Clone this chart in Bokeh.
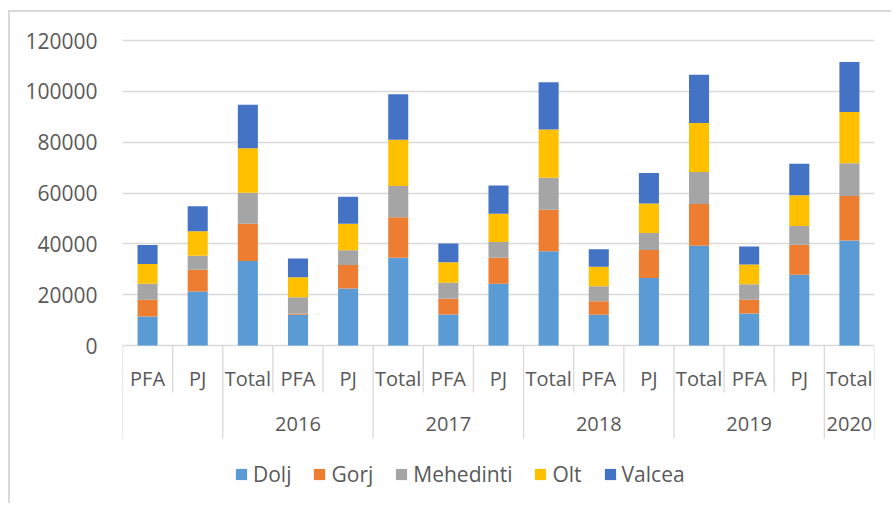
from bokeh.plotting import figure
from bokeh.models import (Range1d, FixedTicker, Legend, LegendItem, ColumnDataSource,
                          NumeralTickFormatter)
from bokeh.core.properties import value
from bokeh.embed import file_html
from bokeh.resources import INLINE

# ---- data ----
categories = ["PFA", "PJ", "Total", "PFA", "PJ", "Total", "PFA", "PJ", "Total",
              "PFA", "PJ", "Total", "PFA", "PJ", "Total"]
year_labels = ["", "2016", "2017", "2018", "2019", "2020"]
year_sizes = [2, 3, 3, 3, 3, 1]
series = ["Dolj", "Gorj", "Mehedinti", "Olt", "Valcea"]
dolj = [11400, 21200, 33200, 12100, 22400, 34500, 12200, 24300, 37100,
        12100, 26600, 39200, 12600, 27800, 41300]
gorj = [6600, 8600, 14700, 400, 9300, 16000, 6200, 10200, 16300,
        5300, 11000, 16500, 5400, 11800, 17500]
mehedinti = [6300, 5500, 12200, 6500, 5800, 12300, 6300, 6200, 12600,
             5900, 6700, 12600, 6100, 7400, 12900]
olt = [7800, 9700, 17500, 7900, 10400, 18200, 8100, 11100, 19000,
       7700, 11600, 19200, 7800, 12100, 20200]
valcea = [7400, 9800, 17100, 7300, 10600, 17900, 7300, 11200, 18600,
          6900, 12000, 19000, 7100, 12400, 19600]
y_ticks = [0, 20000, 40000, 60000, 80000, 100000, 120000]

colors = ["#5B9BD5", "#ED7D31", "#A5A5A5", "#FFC000", "#4472C4"]
TEXT = "#595959"
GRID = "#D9D9D9"
FONT = "Open Sans"
FS = "20px"
FS_Y = "21px"

PX = 120000 / 305.0  # data units per screen pixel

src = ColumnDataSource(dict(
    x=[i + 0.5 for i in range(len(categories))],
    Dolj=dolj, Gorj=gorj, Mehedinti=mehedinti, Olt=olt, Valcea=valcea,
))

p = figure(width=883, height=493,
           x_range=Range1d(0, len(categories)),
           y_range=Range1d(-150 * PX, 120000 + 10 * PX),
           output_backend="svg", toolbar_location=None,
           min_border_left=112, min_border_right=19,
           min_border_top=18, min_border_bottom=10)
p.margin = (10, 0, 0, 8)
p.styles = {"border-top": "2px solid #d9d9d9", "border-left": "2px solid #d9d9d9"}
p.outline_line_color = None
p.background_fill_color = "white"
p.border_fill_color = "white"

renderers = p.vbar_stack(series, x="x", width=0.4, source=src, color=colors,
                         line_color=None)

# axes
p.xaxis.visible = False
p.xgrid.visible = False
ticker = FixedTicker(ticks=y_ticks)
p.yaxis.ticker = ticker
p.yaxis.formatter = NumeralTickFormatter(format="0")
p.yaxis.axis_line_color = None
p.yaxis.major_tick_line_color = None
p.yaxis.minor_tick_line_color = None
p.yaxis.major_label_standoff = 19
p.yaxis.major_label_text_font = FONT
p.yaxis.major_label_text_font_size = FS_Y
p.yaxis.major_label_text_color = TEXT
p.ygrid.ticker = ticker
p.ygrid.grid_line_color = GRID
p.ygrid.grid_line_width = 1.3

# category labels (first row)
cat_src = ColumnDataSource(dict(x=[i + 0.5 for i in range(len(categories))],
                                y=[0] * len(categories), t=categories))
p.text(x="x", y="y", text="t", source=cat_src, y_offset=33,
       text_align="center", text_baseline="middle",
       text_font=value(FONT), text_font_size=FS, text_color=TEXT)

# year labels (second row)
starts = []
acc = 0
for s in year_sizes:
    starts.append(acc)
    acc += s
yr_x = [st + sz / 2.0 for st, sz in zip(starts, year_sizes)]
yr_src = ColumnDataSource(dict(x=yr_x, y=[0] * len(yr_x), t=year_labels))
p.text(x="x", y="y", text="t", source=yr_src, y_offset=78,
       text_align="center", text_baseline="middle",
       text_font=value(FONT), text_font_size=FS, text_color=TEXT)

# separators
group_bounds = set(starts + [acc])
sx, sy0, sy1 = [], [], []
for b in range(len(categories) + 1):
    sx.append(b)
    sy0.append(0)
    sy1.append(-93 * PX if b in group_bounds else -47 * PX)
p.segment(x0=sx, y0=sy0, x1=sx, y1=sy1, line_color=GRID, line_width=1.3)

# legend
legend = Legend(items=[LegendItem(label=s, renderers=[r]) for s, r in zip(series, renderers)],
                orientation="horizontal", location=(112, 7))
legend.label_text_font = FONT
legend.label_text_font_size = FS_Y
legend.label_text_color = TEXT
legend.glyph_width = 14
legend.glyph_height = 14
legend.label_standoff = 5
legend.spacing = 21
legend.padding = 0
legend.margin = 0
legend.border_line_color = None
legend.background_fill_alpha = 0
legend.label_height = 21
p.add_layout(legend)

open("out.html", "w").write(file_html(p, INLINE))
